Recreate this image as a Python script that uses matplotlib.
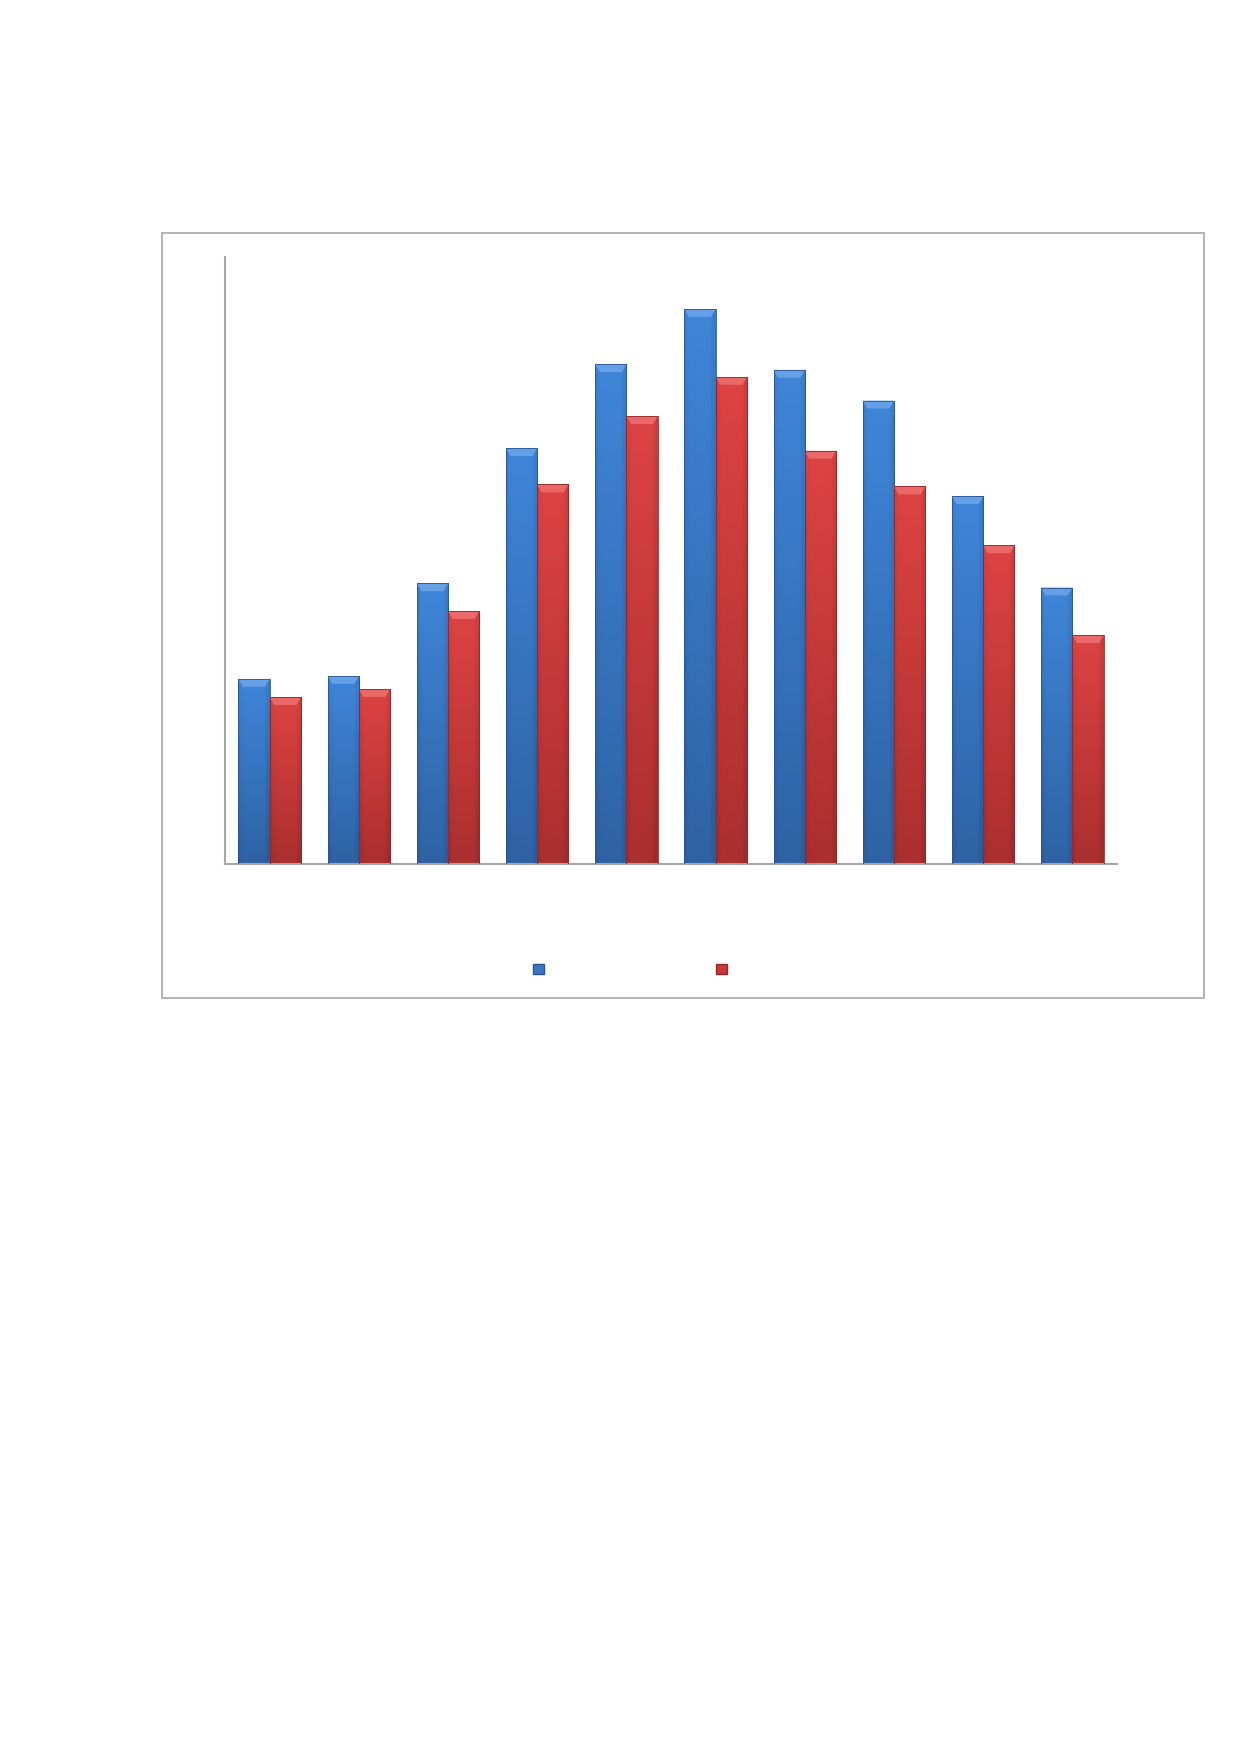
import numpy as np
import matplotlib
matplotlib.use('Agg')
import matplotlib.pyplot as plt
from matplotlib.patches import Rectangle, Polygon, Patch
from matplotlib.colors import LinearSegmentedColormap

# values (no scale shown, arbitrary units)
categories = ['1', '2', '3', '4', '5', '6', '7', '8', '9', '10']
series_a = [165.5, 168.2, 251.0, 372.0, 447.0, 496.5, 442.0, 414.5, 329.0, 247.3]
series_b = [149.3, 156.5, 226.2, 339.5, 400.6, 435.7, 369.6, 337.7, 285.1, 204.6]
y_max = 543

blue_grad = ['#2b5a98', '#3f86d9']
red_grad = ['#9e2a2a', '#de4343']
blue_cap = '#64a0e6'
red_cap = '#ea6868'
blue_edge = '#2a5590'
red_edge = '#922828'

fig = plt.figure(figsize=(12.4, 17.54), dpi=100)

# grey frame round the chart area
fig.patches.append(Rectangle((162 / 1240, 1 - 998 / 1754), (1204 - 162) / 1240, (998 - 233) / 1754,
                             transform=fig.transFigure, fill=False, edgecolor='#a6a6a6', linewidth=1.2))

ax = fig.add_axes([225 / 1240, 1 - 864 / 1754, (1117 - 225) / 1240, (864 - 257) / 1754])

x = np.arange(len(categories))
w = 0.35


def bevel_bar(ax, xc, h, grad, cap, edge):
    x0, x1 = xc - w / 2, xc + w / 2
    rect = Rectangle((x0, 0), w, h, facecolor=grad[1], edgecolor='none')
    ax.add_patch(rect)
    cmap = LinearSegmentedColormap.from_list('g', grad)
    # vertical gradient, slightly darker at the sides
    yy = np.linspace(0, 1, 64)[:, None]
    xx = np.linspace(-1, 1, 32)[None, :]
    img = yy * 0.8 + 0.2 - 0.25 * xx ** 6 - 0.08 * (xx > 0.7)
    im = ax.imshow(img, extent=(x0, x1, 0, h), origin='lower', cmap=cmap,
                   vmin=0, vmax=1, aspect='auto', interpolation='bilinear', zorder=2)
    im.set_clip_path(rect)
    ch = 7.0
    d = 0.05
    ax.add_patch(Polygon([(x0, h), (x1, h), (x1 - d, h - ch), (x0 + d, h - ch)],
                         closed=True, facecolor=cap, edgecolor='none', zorder=3))
    ax.add_patch(Rectangle((x0, 0), w, h, fill=False, edgecolor=edge, linewidth=0.6, zorder=4))


for i in range(len(categories)):
    bevel_bar(ax, x[i] - w / 2, series_a[i], blue_grad, blue_cap, blue_edge)
    bevel_bar(ax, x[i] + w / 2, series_b[i], red_grad, red_cap, red_edge)

ax.set_xlim(-0.5, len(categories) - 0.5)
ax.set_ylim(0, y_max)
ax.set_xticks([])
ax.set_yticks([])
for s in ['top', 'right']:
    ax.spines[s].set_visible(False)
for s in ['left', 'bottom']:
    ax.spines[s].set_color('#a6a6a6')
    ax.spines[s].set_linewidth(1.5)

handles = [Patch(facecolor='#3a78c6', edgecolor=blue_edge),
           Patch(facecolor='#c83838', edgecolor=red_edge)]
fig.legend(handles, [' ', ' '], loc='center', bbox_to_anchor=(0.511, 1 - 970 / 1754), ncol=2,
           frameon=False, handlelength=0.8, handleheight=0.8, handletextpad=0.2,
           columnspacing=11.9, fontsize=10)

fig.savefig('out.png', dpi=100, facecolor='white')
